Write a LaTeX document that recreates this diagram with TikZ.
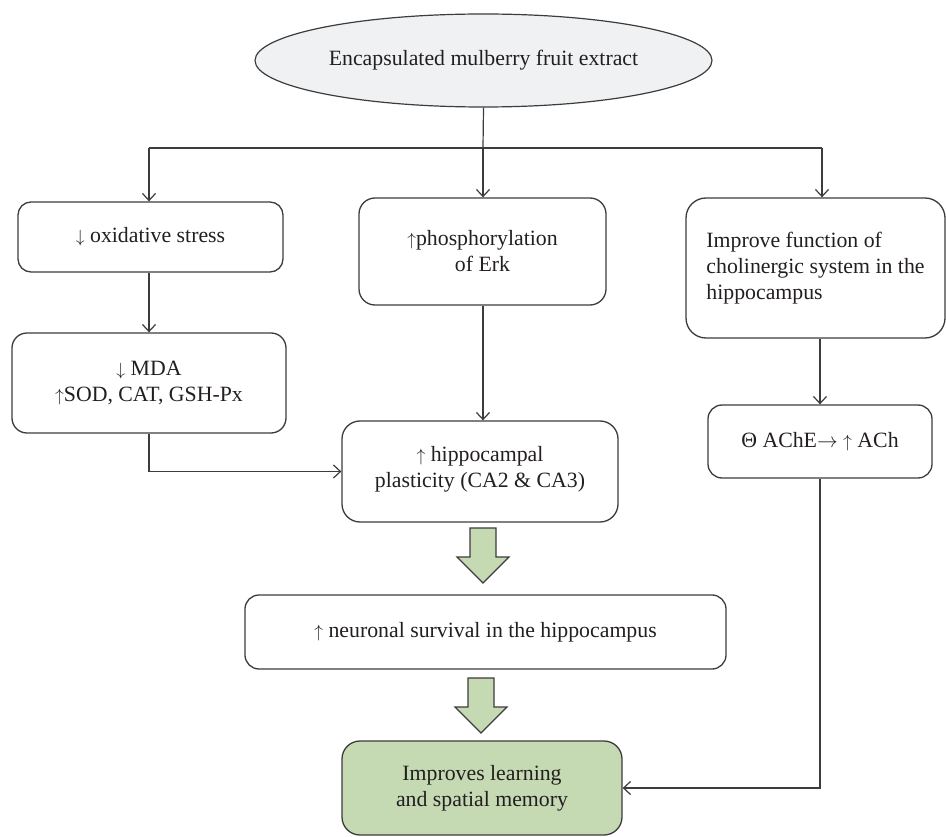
\documentclass[tikz,border=0pt]{standalone}
\usepackage{fontspec}
\setmainfont{Liberation Serif}
\usetikzlibrary{arrows.meta,shapes.geometric}
\definecolor{ink}{RGB}{35,31,32}
\definecolor{edge}{RGB}{60,60,60}
\definecolor{ellfill}{RGB}{240,241,242}
\definecolor{leaf}{RGB}{197,217,179}
\newcommand\myup{\scalebox{0.85}{$\uparrow$}}
\newcommand\mydown{\scalebox{0.85}{$\downarrow$}}
\newcommand\myright{$\rightarrow$}
\begin{document}
\begin{tikzpicture}[x=1pt,y=-1pt,
  font=\fontsize{21.8}{26}\selectfont,
  box/.style={draw=edge, line width=1.3pt, rounded corners=13pt, align=center, inner sep=0pt, text=ink, fill=white},
  conn/.style={draw=edge, line width=1.2pt},
  arr/.style={conn, -{Straight Barb[length=7pt,width=13pt,line width=1.2pt]}},
  bigarrow/.style={draw=edge, line width=1.2pt, fill=leaf, line join=miter},
  blockdown/.pic={\path[bigarrow] (-13,0) -- (-13,29) -- (-26,29) -- (0,55) -- (26,29) -- (13,29) -- (13,0) -- cycle;}
]
\useasboundingbox (0,0) rectangle (946,837);

% top ellipse
\node[ellipse, draw=edge, line width=1.2pt, fill=ellfill, text=ink, minimum width=457pt, minimum height=93pt, inner sep=0pt] (ext) at (483.5,60.5) {Encapsulated mulberry fruit extract};

% boxes
\node[box, minimum width=265pt, minimum height=70pt] (ox) at (150.5,237) {\mydown\ oxidative stress};
\node[box, rounded corners=15pt, minimum width=274pt, minimum height=100pt] (mda) at (149,383) {\mydown\ MDA\\\myup SOD, CAT, GSH-Px};
\node[box, rounded corners=16pt, minimum width=247pt, minimum height=107pt] (erk) at (482.5,251.5) {\myup phosphorylation\\of Erk};
\node[box, rounded corners=20pt, minimum width=259pt, minimum height=140pt, align=left] (chol) at (815.5,268) {Improve function of\\cholinergic system in the\\hippocampus};
\node[box, rounded corners=18pt, minimum width=276pt, minimum height=101pt] (hip) at (480,471.5) {\myup\ hippocampal\\plasticity (CA2 \& CA3)\\[-16pt]\mbox{}};
\node[box, rounded corners=14pt, minimum width=224pt, minimum height=73pt] (ache) at (820,441.5) {Θ AChE\myright\ \myup\ ACh};
\node[box, rounded corners=14pt, minimum width=481pt, minimum height=74pt] (neur) at (485.5,632) {\myup\ neuronal survival in the hippocampus};
\node[box, rounded corners=18pt, fill=leaf, minimum width=280pt, minimum height=94pt] (learn) at (482,788) {Improves learning\\and spatial memory};

% branch coordinates
\coordinate (split) at (483,148);
\coordinate (bl) at (149,148);
\coordinate (br) at (822,148);

\draw[conn] (ext.south) -- (split);
\draw[conn] (bl) -- (br);
\draw[arr] (bl) -- (bl |- ox.north);
\draw[arr] (split) -- (split |- erk.north);
\draw[arr] (br) -- (br |- chol.north);

\draw[arr] (ox.south -| bl) -- (bl |- mda.north);
\draw[arr] (mda.south -| bl) |- (hip.west);
\draw[arr] (split |- erk.south) -- (split |- hip.north);
\draw[arr] (ache.north |- chol.south) -- (ache.north);
\draw[arr] (ache.south) |- (learn.east);

% block arrows
\pic at (483,528) {blockdown};
\pic at (481,678) {blockdown};
\end{tikzpicture}
\end{document}
